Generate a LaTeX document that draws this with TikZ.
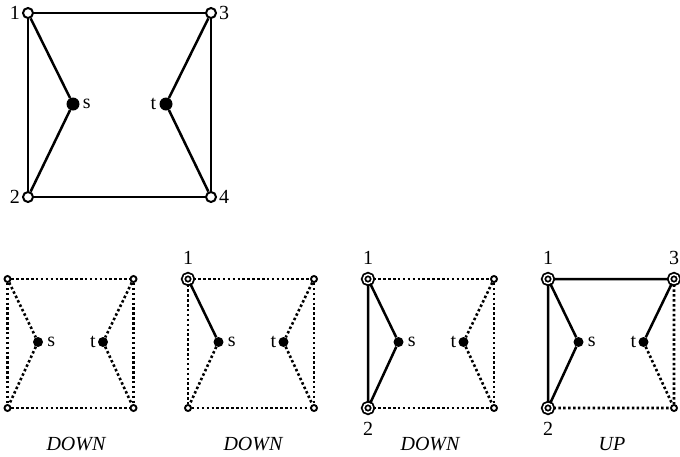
\documentclass[tikz,border=0pt]{standalone}
\usepackage{fontspec}
\setmainfont{Liberation Serif}
\usetikzlibrary{positioning}

\tikzset{
  open/.style={circle,draw,fill=white,line width=2pt,inner sep=0pt,minimum size=10pt},
  sopen/.style={circle,draw,fill=white,line width=1.9pt,inner sep=0pt,minimum size=6pt},
  hit/.style={circle,draw,fill=white,line width=1.8pt,double,double distance=1.5pt,inner sep=0pt,minimum size=9pt},
  term/.style={circle,fill=black,inner sep=0pt,minimum size=13pt},
  sterm/.style={circle,fill=black,inner sep=0pt,minimum size=10pt},
  edge/.style={line width=2.5pt},
  idle/.style={line width=2.6pt,dash pattern=on 2.5pt off 2.4pt},
  lbl/.style={inner sep=0pt,font=\fontsize{20}{23}\selectfont},
  mode/.style={inner sep=0pt,font=\fontsize{20}{23}\selectfont\itshape}
}

\begin{document}
\begin{tikzpicture}[x=1pt,y=-1pt]
  \useasboundingbox (0,0) rectangle (680,456);

  % the whole graph
  \node[open] (t1) at (28,13)  {};
  \node[open] (t2) at (28,197) {};
  \node[open] (t3) at (211,13) {};
  \node[open] (t4) at (211,197) {};
  \node[term] (ts) at (73,104) {};
  \node[term] (tt) at (166,104) {};
  \draw[edge] (t1) -- (t3) (t2) -- (t4) (t1) -- (t2) (t3) -- (t4);
  \draw[edge] (t1) -- (ts) -- (t2) (t3) -- (tt) -- (t4);
  \node[lbl,left=2pt of t1]  {1};
  \node[lbl,left=2pt of t2]  {2};
  \node[lbl,right=2pt of t3] {3};
  \node[lbl,right=2pt of t4] {4};
  \node[lbl,right=3pt of ts] {s};
  \node[lbl,left=3pt of tt]  {t};

  % step a: nothing visited
  \node[sopen] (a1) at (7.5,279)   {};
  \node[sopen] (a2) at (7.5,408)   {};
  \node[sopen] (a3) at (133.5,279) {};
  \node[sopen] (a4) at (133.5,408) {};
  \node[sterm] (as) at (38,342)    {};
  \node[sterm] (at) at (103,342)   {};
  \draw[idle] (a1) -- (a3) (a2) -- (a4) (a1) -- (a2) (a3) -- (a4);
  \draw[idle] (a1) -- (as) -- (a2) (a3) -- (at) -- (a4);
  \node[lbl,right=4pt of as] {s};
  \node[lbl,left=2pt of at]  {t};
  \node[mode] at (76,444) {DOWN};

  % step b: vertex 1
  \node[hit]   (b1) at (188,279) {};
  \node[sopen] (b2) at (188,408) {};
  \node[sopen] (b3) at (314,279) {};
  \node[sopen] (b4) at (314,408) {};
  \node[sterm] (bs) at (218.5,342) {};
  \node[sterm] (bt) at (283.5,342) {};
  \draw[idle] (b1) -- (b3) (b2) -- (b4) (b1) -- (b2) (b3) -- (b4);
  \draw[idle] (bs) -- (b2) (b3) -- (bt) -- (b4);
  \draw[edge] (b1) -- (bs);
  \node[lbl,above=9pt of b1] {1};
  \node[lbl,right=4pt of bs] {s};
  \node[lbl,left=2pt of bt]  {t};
  \node[mode] at (253,444) {DOWN};

  % step c: vertices 1 and 2
  \node[hit]   (c1) at (368,279) {};
  \node[hit]   (c2) at (368,408) {};
  \node[sopen] (c3) at (494,279) {};
  \node[sopen] (c4) at (494,408) {};
  \node[sterm] (cs) at (398.5,342) {};
  \node[sterm] (ct) at (463.5,342) {};
  \draw[idle] (c1) -- (c3) (c2) -- (c4) (c3) -- (c4);
  \draw[idle] (c3) -- (ct) -- (c4);
  \draw[edge] (c1) -- (c2) (c1) -- (cs) -- (c2);
  \node[lbl,above=9pt of c1] {1};
  \node[lbl,below=9pt of c2] {2};
  \node[lbl,right=4pt of cs] {s};
  \node[lbl,left=2pt of ct]  {t};
  \node[mode] at (430,444) {DOWN};

  % step d: vertices 1, 2 and 3
  \node[hit]   (d1) at (548,279) {};
  \node[hit]   (d2) at (548,408) {};
  \node[hit]   (d3) at (674,279) {};
  \node[sopen] (d4) at (674,408) {};
  \node[sterm] (ds) at (578.5,342) {};
  \node[sterm] (dt) at (643.5,342) {};
  \draw[idle] (d2) -- (d4) (d3) -- (d4) (dt) -- (d4);
  \draw[edge] (d1) -- (d3) (d1) -- (d2) (d1) -- (ds) -- (d2) (d3) -- (dt);
  \node[lbl,above=9pt of d1] {1};
  \node[lbl,below=9pt of d2] {2};
  \node[lbl,above=9pt of d3] {3};
  \node[lbl,right=4pt of ds] {s};
  \node[lbl,left=2pt of dt]  {t};
  \node[mode] at (612,444) {UP};
\end{tikzpicture}
\end{document}
